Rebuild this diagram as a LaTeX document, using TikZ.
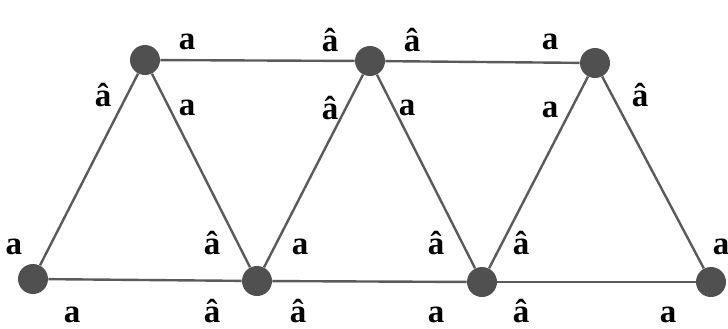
\documentclass[tikz,border=0pt]{standalone}
\usepackage{fontspec}
\setmainfont{Liberation Serif}
\usetikzlibrary{positioning}
\definecolor{vgray}{RGB}{80,80,80}
\definecolor{egray}{RGB}{90,90,90}

\begin{document}
\begin{tikzpicture}[x=0.5pt, y=-0.5pt,
    vtx/.style={circle, fill=vgray, inner sep=0pt, minimum size=15pt},
    lab/.style={inner sep=0pt, font=\fontsize{16.5}{16.5}\selectfont\bfseries},
    edge/.style={draw=egray, line width=1.2pt}
]
\useasboundingbox (0,0) rectangle (728,328);

% Vertices
\node[vtx] (t1) at (145, 60) {};
\node[vtx] (t2) at (370, 61) {};
\node[vtx] (t3) at (595, 63) {};
\node[vtx] (b1) at (33, 279) {};
\node[vtx] (b2) at (257, 281) {};
\node[vtx] (b3) at (482, 282) {};
\node[vtx] (b4) at (711, 282) {};

% Edges
\foreach \u/\v in {t1/t2,t2/t3,b1/b2,b2/b3,b3/b4,b1/t1,t1/b2,b2/t2,t2/b3,b3/t3,t3/b4} {
  \draw[edge] (\u) -- (\v);
}

% Labels
\node[lab] (l1) at (187, 42) {a};
\node[lab] (l2) at (330, 40) {â};
\node[lab] (l3) at (412, 40) {â};
\node[lab] (l4) at (550, 42) {a};
\node[lab] (l5) at (103, 95) {â};
\node[lab] (l6) at (187, 108) {a};
\node[lab] (l7) at (330, 108) {â};
\node[lab] (l8) at (407, 108) {a};
\node[lab] (l9) at (550, 110) {a};
\node[lab] (l10) at (640, 95) {â};
\node[lab] (l11) at (14, 247) {a};
\node[lab] (l12) at (212, 243) {â};
\node[lab] (l13) at (300, 247) {a};
\node[lab] (l14) at (436, 243) {â};
\node[lab] (l15) at (521, 243) {â};
\node[lab] (l16) at (721, 247) {a};
\node[lab] (l17) at (72, 315) {a};
\node[lab] (l18) at (212, 311) {â};
\node[lab] (l19) at (298, 311) {â};
\node[lab] (l20) at (436, 315) {a};
\node[lab] (l21) at (521, 311) {â};
\node[lab] (l22) at (668, 315) {a};

\end{tikzpicture}
\end{document}
